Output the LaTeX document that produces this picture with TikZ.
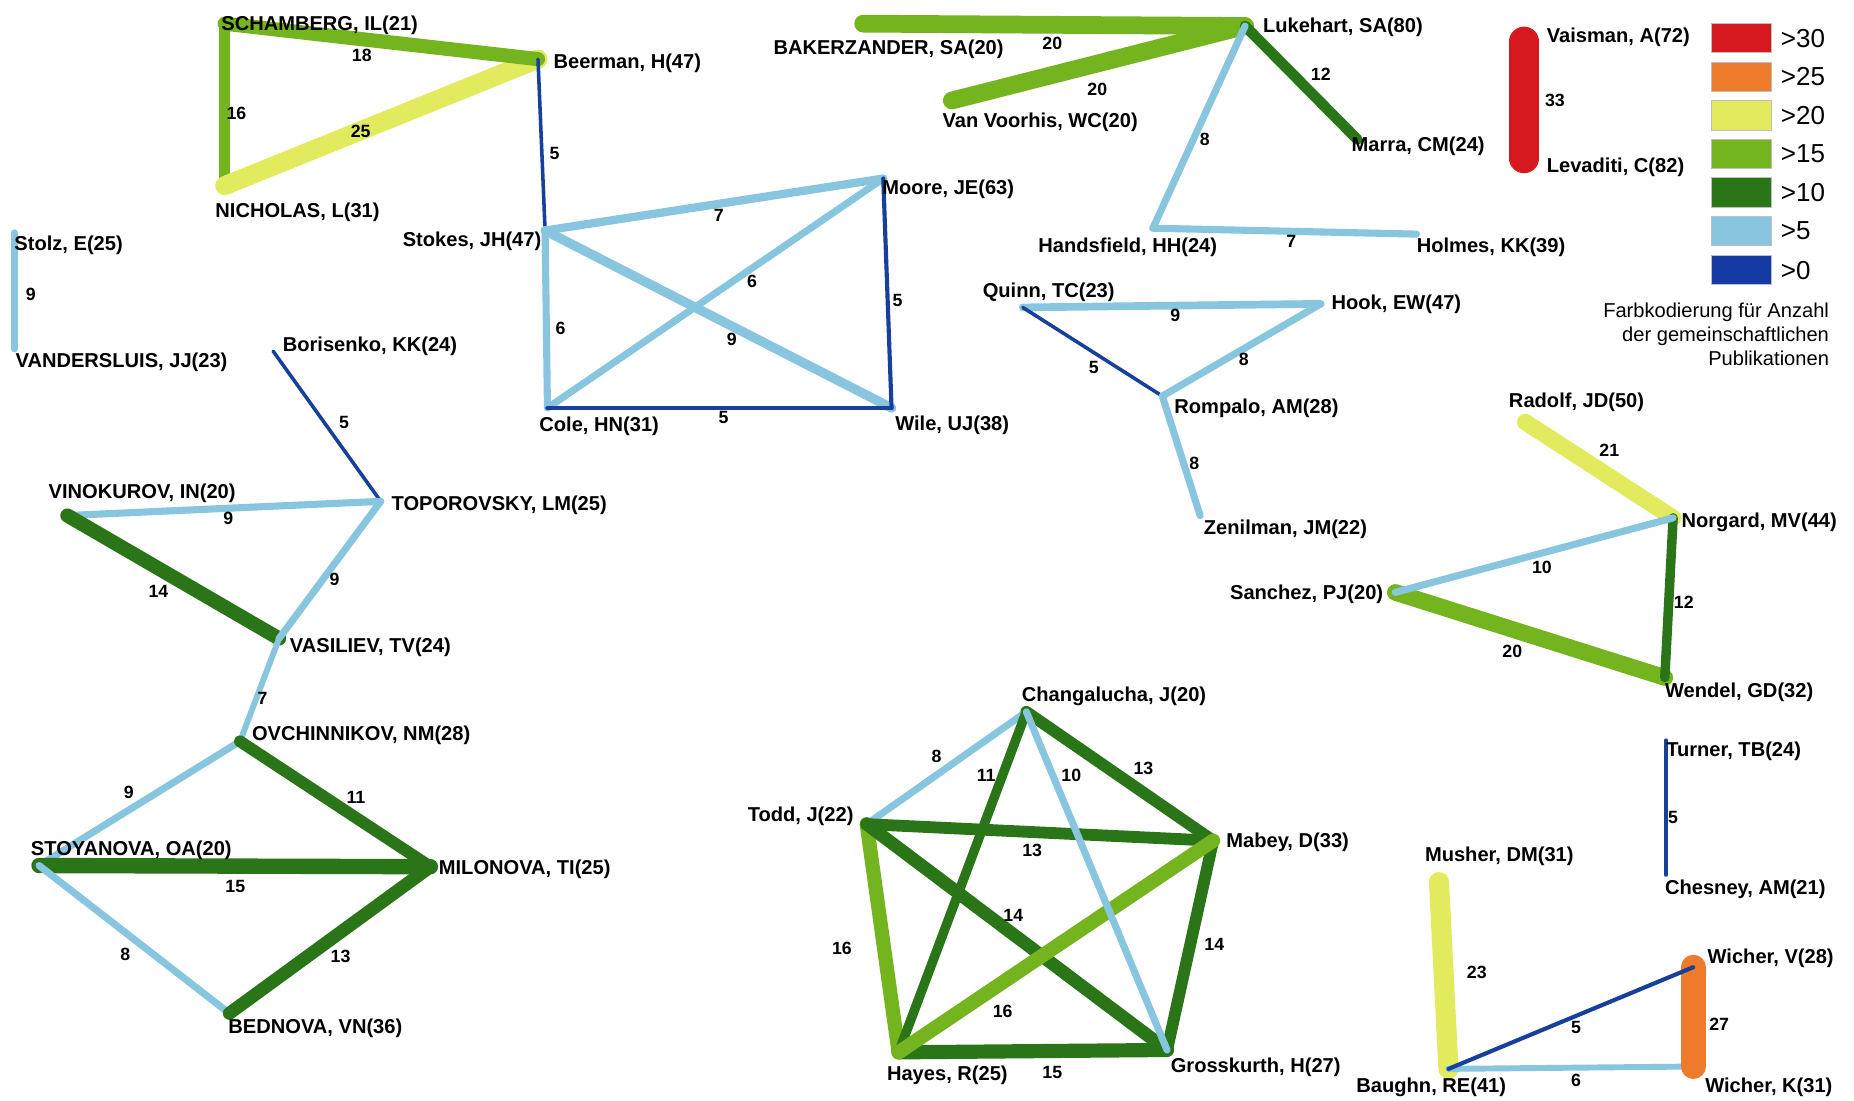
\documentclass[tikz,border=0pt]{standalone}
\usepackage{fontspec}
\setmainfont{Liberation Sans}
\definecolor{cR}{HTML}{D6191E}
\definecolor{cO}{HTML}{EE7A2C}
\definecolor{cY}{HTML}{E2EA5E}
\definecolor{cG}{HTML}{74B51F}
\definecolor{cD}{HTML}{2A7517}
\definecolor{cL}{HTML}{88C6DF}
\definecolor{cB}{HTML}{17409A}
\tikzset{
  lab/.style={font=\fontsize{17}{20}\selectfont\bfseries, inner sep=0pt, anchor=west, yshift=-1.5pt},
  labr/.style={lab, anchor=east},
  num/.style={font=\fontsize{15}{17}\selectfont\bfseries, inner sep=0pt},
  legbox/.style={draw=black!25, line width=0.8pt, minimum width=51pt, minimum height=25pt, inner sep=0pt},
  legtxt/.style={font=\fontsize{22}{24}\selectfont, inner sep=0pt, anchor=west},
}
\newcommand\lnk[6]{%
  \draw[line cap=round, draw=#3, line width=#4pt] (#1) -- (#2);%
  \node[num] (n-#1-#2) at (#5) {#6};}
\begin{document}
\begin{tikzpicture}[x=1pt, y=-1pt]
\useasboundingbox[fill=white] (0,0) rectangle (1568,931);
% points
\coordinate (sch) at (190,20);
\coordinate (bee) at (455,50);
\coordinate (nic) at (190,157);
\coordinate (sto) at (461,195);
\coordinate (moo) at (747,151);
\coordinate (col) at (463,345);
\coordinate (wil) at (754,345);
\coordinate (stz) at (12,197);
\coordinate (van) at (12,295);
\coordinate (bor) at (231,297);
\coordinate (top) at (322,424);
\coordinate (vin) at (57,436);
\coordinate (vas) at (236,540);
\coordinate (ovc) at (203,627);
\coordinate (sty) at (33,732);
\coordinate (mil) at (364,733);
\coordinate (bed) at (194,857);
\coordinate (bak) at (730,20);
\coordinate (luk) at (1053,22);
\coordinate (vvo) at (805,85);
\coordinate (mar) at (1148,118);
\coordinate (han) at (975,193);
\coordinate (hol) at (1198,198);
\coordinate (qui) at (865,260);
\coordinate (hoo) at (1117,257);
\coordinate (rom) at (983,335);
\coordinate (zen) at (1015,436);
\coordinate (vai) at (1289,35);
\coordinate (lev) at (1289,134);
\coordinate (rad) at (1290,357);
\coordinate (nor) at (1415,438);
\coordinate (san) at (1180,501);
\coordinate (wen) at (1408,573);
\coordinate (tur) at (1409,626);
\coordinate (che) at (1409,740);
\coordinate (mus) at (1217,746);
\coordinate (bau) at (1225,904);
\coordinate (wiv) at (1432,818);
\coordinate (wik) at (1432,902);
\coordinate (cha) at (868,602);
\coordinate (tod) at (733,697);
\coordinate (mab) at (1026,711);
\coordinate (hay) at (760,890);
\coordinate (gro) at (987,888);
% edges
\lnk{sch}{nic}{cG}{9}{200,96}{16}
\lnk{nic}{bee}{cY}{16}{305,111}{25}
\lnk{sch}{bee}{cG}{12}{306,47}{18}
\lnk{bee}{sto}{cB}{3}{469,130}{5}
\lnk{sto}{moo}{cL}{7}{608,182}{7}
\lnk{sto}{col}{cL}{6}{474,278}{6}
\lnk{col}{moo}{cL}{6}{636,238}{6}
\lnk{sto}{wil}{cL}{8}{619,287}{9}
\lnk{moo}{wil}{cB}{3.5}{759,254}{5}
\lnk{col}{wil}{cB}{3.5}{612,353}{5}
\lnk{stz}{van}{cL}{6}{26,249}{9}
\lnk{bor}{top}{cB}{3}{291,357}{5}
\lnk{vin}{top}{cL}{6}{193,438}{9}
\lnk{vin}{vas}{cD}{12}{134,500}{14}
\lnk{top}{vas}{cL}{6}{283,490}{9}
\lnk{vas}{ovc}{cL}{5}{222,591}{7}
\lnk{ovc}{sty}{cL}{6}{109,670}{9}
\lnk{ovc}{mil}{cD}{10}{301,674}{11}
\lnk{sty}{mil}{cD}{13}{199,750}{15}
\lnk{sty}{bed}{cL}{6}{106,807}{8}
\lnk{mil}{bed}{cD}{11}{288,809}{13}
\lnk{bak}{luk}{cG}{15}{890,37}{20}
\lnk{vvo}{luk}{cG}{15}{928,76}{20}
\lnk{luk}{mar}{cD}{9}{1117,63}{12}
\lnk{luk}{han}{cL}{6}{1019,118}{8}
\lnk{han}{hol}{cL}{6}{1092,204}{7}
\lnk{qui}{hoo}{cL}{6.5}{994,267}{9}
\lnk{qui}{rom}{cB}{3}{925,311}{5}
\lnk{hoo}{rom}{cL}{6}{1052,304}{8}
\lnk{rom}{zen}{cL}{6}{1010,392}{8}
\lnk{vai}{lev}{cR}{25}{1315,85}{33}
\lnk{rad}{nor}{cY}{14}{1361,381}{21}
\lnk{san}{wen}{cG}{14}{1279,551}{20}
\lnk{nor}{wen}{cD}{8}{1424,509}{12}
\lnk{san}{nor}{cL}{6}{1304,480}{10}
\lnk{tur}{che}{cB}{3}{1415,691}{5}
\lnk{mus}{bau}{cY}{17}{1249,822}{23}
\lnk{bau}{wik}{cL}{5}{1333,914}{6}
\lnk{wiv}{wik}{cO}{21}{1454,866}{27}
\lnk{bau}{wiv}{cB}{3.5}{1333,869}{5}
\lnk{cha}{tod}{cL}{6}{792,640}{8}
\lnk{tod}{hay}{cG}{12}{712,802}{16}
\lnk{hay}{gro}{cD}{12}{890,907}{15}
\lnk{mab}{gro}{cD}{10}{1027,799}{14}
\lnk{cha}{mab}{cD}{10}{967,650}{13}
\lnk{tod}{mab}{cD}{10}{873,719}{13}
\lnk{cha}{hay}{cD}{8}{834,656}{11}
\lnk{tod}{gro}{cD}{11}{857,774}{14}
\lnk{hay}{mab}{cG}{12}{848,855}{16}
\lnk{cha}{gro}{cL}{6}{906,656}{10}
% labels
\node[lab] (l-sch) at (187,20) {SCHAMBERG, IL(21)};
\node[lab] (l-bee) at (468,52) {Beerman, H(47)};
\node[lab] (l-nic) at (182,178) {NICHOLAS, L(31)};
\node[labr] (l-sto) at (458,203) {Stokes, JH(47)};
\node[lab] (l-moo) at (746,159) {Moore, JE(63)};
\node[lab] (l-col) at (456,359) {Cole, HN(31)};
\node[lab] (l-wil) at (757,358) {Wile, UJ(38)};
\node[lab] (l-stz) at (12,206) {Stolz, E(25)};
\node[lab] (l-van) at (13,305) {VANDERSLUIS, JJ(23)};
\node[lab] (l-bor) at (239,291) {Borisenko, KK(24)};
\node[lab] (l-top) at (331,426) {TOPOROVSKY, LM(25)};
\node[lab] (l-vin) at (41,416) {VINOKUROV, IN(20)};
\node[lab] (l-vas) at (245,546) {VASILIEV, TV(24)};
\node[lab] (l-ovc) at (213,620) {OVCHINNIKOV, NM(28)};
\node[lab] (l-sty) at (26,718) {STOYANOVA, OA(20)};
\node[lab] (l-mil) at (371,734) {MILONOVA, TI(25)};
\node[lab] (l-bed) at (193,868) {BEDNOVA, VN(36)};
\node[lab] (l-bak) at (654,40) {BAKERZANDER, SA(20)};
\node[lab] (l-luk) at (1068,22) {Lukehart, SA(80)};
\node[lab] (l-vvo) at (797,102) {Van Voorhis, WC(20)};
\node[lab] (l-mar) at (1143,122) {Marra, CM(24)};
\node[lab] (l-han) at (878,208) {Handsfield, HH(24)};
\node[lab] (l-hol) at (1198,208) {Holmes, KK(39)};
\node[lab] (l-qui) at (831,246) {Quinn, TC(23)};
\node[lab] (l-hoo) at (1126,256) {Hook, EW(47)};
\node[lab] (l-rom) at (993,344) {Rompalo, AM(28)};
\node[lab] (l-zen) at (1018,446) {Zenilman, JM(22)};
\node[lab] (l-vai) at (1308,30) {Vaisman, A(72)};
\node[lab] (l-lev) at (1308,140) {Levaditi, C(82)};
\node[lab] (l-rad) at (1276,339) {Radolf, JD(50)};
\node[lab] (l-nor) at (1422,440) {Norgard, MV(44)};
\node[labr] (l-san) at (1170,501) {Sanchez, PJ(20)};
\node[lab] (l-wen) at (1408,584) {Wendel, GD(32)};
\node[lab] (l-tur) at (1409,634) {Turner, TB(24)};
\node[lab] (l-che) at (1408,751) {Chesney, AM(21)};
\node[lab] (l-mus) at (1205,723) {Musher, DM(31)};
\node[lab] (l-bau) at (1147,918) {Baughn, RE(41)};
\node[lab] (l-wiv) at (1444,809) {Wicher, V(28)};
\node[lab] (l-wik) at (1442,918) {Wicher, K(31)};
\node[lab] (l-cha) at (864,587) {Changalucha, J(20)};
\node[labr] (l-tod) at (722,689) {Todd, J(22)};
\node[lab] (l-mab) at (1037,711) {Mabey, D(33)};
\node[lab] (l-hay) at (750,908) {Hayes, R(25)};
\node[lab] (l-gro) at (990,901) {Grosskurth, H(27)};
% legend
\node[legbox, fill=cR] (k1) at (1473,32.2) {};
\node[legbox, fill=cO] (k2) at (1473,65.1) {};
\node[legbox, fill=cY] (k3) at (1473,97.6) {};
\node[legbox, fill=cG] (k4) at (1473,130.3) {};
\node[legbox, fill=cD] (k5) at (1473,162.8) {};
\node[legbox, fill=cL] (k6) at (1473,195.4) {};
\node[legbox, fill=cB!90!blue] (k7) at (1473,228.4) {};
\node[legtxt] (t1) at (1506,32.2) {>30};
\node[legtxt] (t2) at (1506,65.1) {>25};
\node[legtxt] (t3) at (1506,97.6) {>20};
\node[legtxt] (t4) at (1506,130.3) {>15};
\node[legtxt] (t5) at (1506,162.8) {>10};
\node[legtxt] (t6) at (1506,195.4) {>5};
\node[legtxt] (t7) at (1506,228.4) {>0};
\node[font=\fontsize{17}{20.5}\selectfont, align=right, inner sep=0pt, anchor=north east] (cap) at (1547,256) {Farbkodierung für Anzahl\\der gemeinschaftlichen\\Publikationen};
\end{tikzpicture}
\end{document}
